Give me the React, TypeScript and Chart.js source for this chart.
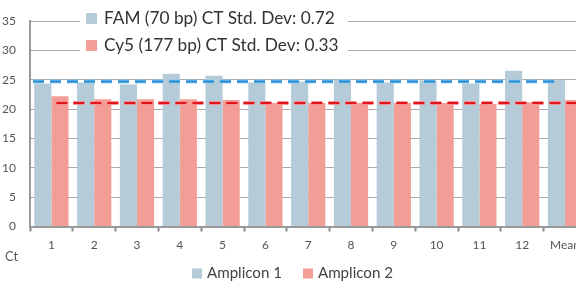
import React, { useEffect, useRef } from "react";
import { Chart, registerables } from "chart.js";

Chart.register(...registerables);

const categories = ["1", "2", "3", "4", "5", "6", "7", "8", "9", "10", "11", "12", "Mean"];
const amplicon1 = [24.4, 24.55, 24.2, 26.05, 25.7, 24.55, 24.7, 25.0, 24.55, 24.95, 24.4, 26.55, 25.0];
const amplicon2 = [22.2, 21.7, 21.7, 21.7, 21.55, 21.05, 21.05, 21.05, 21.05, 21.05, 20.9, 21.2, 21.55];
const seriesLabels = ["Amplicon 1", "Amplicon 2"];
const famMean = 24.72;
const cy5Mean = 21.05;
const stdDevLabels = ["FAM (70 bp) CT Std. Dev: 0.72", "Cy5 (177 bp) CT Std. Dev: 0.33"];
const yMin = 0;
const yMax = 35;
const yStep = 5;
const axisTitle = "Ct";

const BLUE = "#b5cbd8";
const SALMON = "#f29e96";
const FONT = "Lato, 'Open Sans', sans-serif";

function fitFont(ctx: CanvasRenderingContext2D, text: string, target: number, weight = "") {
  ctx.font = `${weight}20px ${FONT}`;
  const w = ctx.measureText(text).width;
  return (20 * target) / w;
}

const overlayPlugin = {
  id: "overlay",
  afterDatasetsDraw(chart: any) {
    const { ctx, chartArea } = chart;
    const xS = chart.scales.x;
    const yS = chart.scales.y;

    const dashed = (val: number, x1: number, x2: number, halo: string, core: string) => {
      const y = yS.getPixelForValue(val);
      ctx.save();
      ctx.setLineDash([11, 6]);
      ctx.beginPath();
      ctx.moveTo(x1, y);
      ctx.lineTo(x2, y);
      ctx.strokeStyle = halo;
      ctx.lineWidth = 4;
      ctx.stroke();
      ctx.strokeStyle = core;
      ctx.lineWidth = 2;
      ctx.stroke();
      ctx.restore();
    };
    dashed(famMean, chartArea.left + 3, xS.getPixelForValue(categories.length - 1) - 5, "rgba(140,200,240,0.9)", "#1b8bd6");
    dashed(cy5Mean, xS.getPixelForValue(0) + 5, chartArea.right, "rgba(245,140,140,0.9)", "#e3141c");

    // top std-dev legend
    ctx.save();
    ctx.fillStyle = "#ffffff";
    ctx.fillRect(100, 2, 268, 56);
    const fs = fitFont(ctx, stdDevLabels[0], 231);
    ctx.font = `${fs}px ${FONT}`;
    ctx.textBaseline = "middle";
    ctx.textAlign = "left";
    const rows = [
      { y: 18.5, color: BLUE },
      { y: 45.5, color: SALMON },
    ];
    rows.forEach((r, i) => {
      ctx.fillStyle = r.color;
      ctx.fillRect(106, r.y - 5.5, 11, 11);
      ctx.fillStyle = "#333";
      ctx.fillText(stdDevLabels[i], 124, r.y);
    });
    ctx.restore();
  },
  afterDraw(chart: any) {
    const { ctx } = chart;
    ctx.save();
    // axis title
    ctx.fillStyle = "#555";
    ctx.font = `13px ${FONT}`;
    ctx.textBaseline = "middle";
    ctx.textAlign = "left";
    ctx.fillText(axisTitle, 25, 257);

    // bottom legend
    const fs = fitFont(ctx, seriesLabels[0], 75);
    ctx.font = `${fs}px ${FONT}`;
    const cy = 273.5;
    let x = 212;
    [BLUE, SALMON].forEach((c, i) => {
      ctx.fillStyle = c;
      ctx.fillRect(x, cy - 5, 10, 10);
      ctx.fillStyle = "#444";
      ctx.fillText(seriesLabels[i], x + 15, cy);
      x = x + 15 + ctx.measureText(seriesLabels[i]).width + 21;
    });
    ctx.restore();
  },
};

export default function App() {
  const ref = useRef<HTMLCanvasElement>(null);
  useEffect(() => {
    if (!ref.current) return;
    const chart = new Chart(ref.current, {
      type: "bar",
      data: {
        labels: categories,
        datasets: [
          { label: seriesLabels[0], data: amplicon1, backgroundColor: BLUE, borderWidth: 0, categoryPercentage: 0.8, barPercentage: 1.0 },
          { label: seriesLabels[1], data: amplicon2, backgroundColor: SALMON, borderWidth: 0, categoryPercentage: 0.8, barPercentage: 1.0 },
        ],
      },
      options: {
        responsive: false,
        animation: false,
        devicePixelRatio: 1,
        layout: { padding: { top: 16, right: 13.6, bottom: 0, left: 0 } },
        plugins: { legend: { display: false }, tooltip: { enabled: false } },
        scales: {
          x: {
            grid: { display: true, drawOnChartArea: false, drawTicks: true, tickLength: 5, tickColor: "#888", tickWidth: 2, offset: true },
            border: { color: "#999", width: 2 },
            ticks: { padding: 6, color: "#555", font: { family: FONT, size: 12 }, maxRotation: 0, autoSkip: false },
            afterFit(s: any) { s.height = 56.5; },
          },
          y: {
            min: yMin,
            max: yMax,
            grid: { color: "#aaa", lineWidth: 1, drawTicks: false },
            border: { color: "#999", width: 2 },
            ticks: { stepSize: yStep, padding: 14, color: "#555", font: { family: FONT, size: 12 } },
            afterFit(s: any) { s.width = 50; },
          },
        },
      },
      plugins: [overlayPlugin],
    });
    return () => chart.destroy();
  }, []);

  return (
    <div style={{ position: "fixed", left: 0, top: 0, width: 576, height: 283, overflow: "hidden", background: "#fff" }}>
      <div style={{ position: "absolute", left: -20, top: 0, width: 620, height: 283 }}>
        <canvas ref={ref} width={620} height={283} style={{ display: "block" }} />
      </div>
    </div>
  );
}
